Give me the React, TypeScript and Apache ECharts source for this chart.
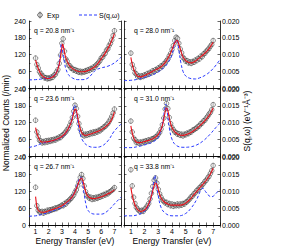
import React, { useEffect, useRef } from "react";
import * as echarts from "echarts";

const ENERGY = [
  1.0, 1.1, 1.2, 1.3, 1.4, 1.5, 1.6, 1.7, 1.8, 1.9,
  2.0, 2.1, 2.2, 2.3, 2.4, 2.5, 2.6, 2.7, 2.8, 2.9,
  3.0, 3.1, 3.2, 3.3, 3.4, 3.5, 3.6, 3.7, 3.8, 3.9,
  4.0, 4.1, 4.2, 4.3, 4.4, 4.5, 4.6, 4.7, 4.8, 4.9,
  5.0, 5.1, 5.2, 5.3, 5.4, 5.5, 5.6, 5.7, 5.8, 5.9,
  6.0, 6.1, 6.2, 6.3, 6.4, 6.5, 6.6, 6.7, 6.8, 6.9,
  7.0,
];

const Q_LABELS = ["q = 20.8 nm⁻¹", "q = 28.0 nm⁻¹", "q = 23.6 nm⁻¹", "q = 31.0 nm⁻¹", "q = 26.7 nm⁻¹", "q = 33.8 nm⁻¹"];

const EXP_1 = [107,84,72,58,52,43,42,36,37,33, 36,34,39,38,46,48,58,66,88,118, 160,176,132,104,96,82,80,71,70,64, 66,60,62,56,60,55,59,57,62,60, 66,63,70,68,75,74,82,86,92,98, 108,110,120,124,136,140,152,160,172,188, 205];
const EXP_2 = [125,84,70,54,50,40,43,38,44,41, 47,45,52,49,56,54,62,58,66,64, 72,70,79,78,86,90,98,104,115,124, 138,152,170,182,178,160,140,126,110,104, 96,98,90,94,88,95,92,100,98,106, 104,114,112,122,124,132,136,142,150,156, 170];
const EXP_3 = [128,86,70,56,54,47,52,48,55,50, 56,52,58,55,60,57,63,62,68,66, 73,76,82,86,94,100,110,122,138,160, 182,170,142,116,96,84,76,72,78,74, 80,77,84,80,86,82,88,86,92,90, 97,98,104,106,112,116,124,132,142,154, 168];
const EXP_4 = [125,86,64,58,48,50,45,50,46,52, 50,55,52,58,54,60,62,64,68,70, 78,84,96,112,136,168,188,170,138,116, 102,94,86,84,78,80,74,78,72,78, 76,82,80,86,86,92,94,98,100,106, 108,116,118,126,128,136,142,150,156,166, 184];
const EXP_5 = [133,68,52,46,44,48,42,48,46,52, 48,54,52,56,55,60,58,62,64,66, 70,68,76,74,82,84,90,94,100,106, 116,124,138,152,168,178,164,138,118,106, 100,94,98,90,96,92,98,94,100,98, 104,102,108,106,112,110,116,118,122,126, 132];
const EXP_6 = [195,138,98,76,62,56,50,47,52,48, 56,60,68,76,92,112,136,158,166,148, 126,110,98,88,84,78,80,72,76,68, 74,66,72,68,74,68,74,70,76,74, 80,82,88,92,100,102,110,114,122,124, 132,134,142,146,154,158,166,172,182,192, 210];

const EXP_ERR = [9, 9, 9, 9, 9, 9];

const FIT_1 = [[1.0,100],[1.2,70],[1.4,50],[1.6,40],[1.8,35],[2.0,34],[2.2,37],[2.4,43],[2.6,56],[2.8,85],[2.9,112],[3.0,145],[3.05,157],[3.1,152],[3.2,128],[3.3,108],[3.5,86],[3.7,74],[4.0,64],[4.3,59],[4.6,58],[5.0,63],[5.3,70],[5.6,80],[6.0,105],[6.3,125],[6.6,150],[6.8,170],[7.0,195]];
const FIT_2 = [[1.0,110],[1.1,85],[1.2,68],[1.3,56],[1.4,48],[1.5,42],[1.7,40],[2.0,45],[2.3,52],[2.6,60],[3.0,70],[3.3,80],[3.6,98],[3.9,125],[4.1,150],[4.25,166],[4.35,171],[4.45,164],[4.6,140],[4.8,112],[5.0,98],[5.2,92],[5.4,90],[5.6,93],[5.8,100],[6.0,108],[6.3,120],[6.6,135],[6.8,148],[7.0,164]];
const FIT_3 = [[1.0,102],[1.1,82],[1.2,68],[1.3,58],[1.4,52],[1.5,50],[1.7,50],[2.0,52],[2.5,58],[3.0,70],[3.3,84],[3.6,108],[3.8,135],[3.95,162],[4.05,168],[4.15,152],[4.3,116],[4.45,90],[4.6,78],[4.8,74],[5.0,76],[5.5,84],[6.0,94],[6.5,112],[6.8,132],[7.0,158]];
const FIT_4 = [[1.0,108],[1.1,82],[1.2,66],[1.3,56],[1.4,50],[1.5,48],[1.7,48],[2.0,52],[2.3,56],[2.6,62],[2.9,72],[3.1,85],[3.3,110],[3.45,145],[3.6,172],[3.7,162],[3.85,126],[4.0,102],[4.2,86],[4.5,76],[4.8,74],[5.1,78],[5.5,88],[6.0,107],[6.5,132],[6.8,152],[7.0,172]];
const FIT_5 = [[1.0,100],[1.05,80],[1.1,64],[1.2,52],[1.4,46],[1.6,45],[2.0,50],[2.5,58],[3.0,68],[3.5,85],[3.8,100],[4.0,117],[4.2,140],[4.35,158],[4.5,166],[4.6,156],[4.75,128],[4.9,108],[5.1,97],[5.4,93],[5.7,95],[6.0,100],[6.4,108],[6.7,115],[7.0,124]];
const FIT_6 = [[1.0,132],[1.1,105],[1.2,85],[1.35,65],[1.5,54],[1.7,48],[1.9,50],[2.1,58],[2.3,74],[2.5,102],[2.65,130],[2.8,148],[2.9,142],[3.05,116],[3.2,96],[3.4,83],[3.7,74],[4.0,70],[4.5,70],[4.8,72],[5.0,77],[5.3,90],[5.6,107],[5.9,124],[6.2,141],[6.5,158],[6.8,180],[7.0,200]];

const SQW_1 = [[0.5,0.0024],[1.0,0.0025],[1.5,0.0027],[2.0,0.0030],[2.3,0.0035],[2.5,0.0042],[2.7,0.0058],[2.8,0.0078],[2.9,0.0112],[2.95,0.0132],[3.0,0.0128],[3.1,0.0100],[3.2,0.0075],[3.3,0.0058],[3.5,0.0040],[3.8,0.0030],[4.2,0.0025],[4.6,0.0025],[5.0,0.0030],[5.3,0.0042],[5.6,0.0054],[6.0,0.0060],[6.5,0.0065],[7.0,0.0075],[7.5,0.0092]];
const SQW_2 = [[0.5,0.0022],[1.0,0.0023],[1.5,0.0026],[2.0,0.0032],[2.5,0.0038],[3.0,0.0048],[3.4,0.0060],[3.7,0.0075],[4.0,0.0098],[4.15,0.0125],[4.3,0.0144],[4.4,0.0138],[4.5,0.0112],[4.65,0.0075],[4.8,0.0050],[5.0,0.0036],[5.3,0.0029],[5.7,0.0027],[6.0,0.0030],[6.5,0.0040],[7.0,0.0058],[7.5,0.0085]];
const SQW_3 = [[0.5,0.0026],[1.0,0.0030],[1.5,0.0038],[2.0,0.0042],[2.5,0.0048],[3.0,0.0056],[3.3,0.0068],[3.6,0.0090],[3.8,0.0118],[3.95,0.0152],[4.05,0.0145],[4.2,0.0105],[4.35,0.0072],[4.6,0.0045],[5.0,0.0030],[5.5,0.0026],[6.0,0.0029],[6.5,0.0045],[7.0,0.0075],[7.5,0.0095]];
const SQW_4 = [[0.5,0.0025],[1.0,0.0025],[1.5,0.0028],[2.0,0.0033],[2.5,0.0040],[2.9,0.0050],[3.1,0.0065],[3.3,0.0095],[3.45,0.0135],[3.55,0.0155],[3.65,0.0132],[3.8,0.0085],[4.0,0.0050],[4.3,0.0032],[4.8,0.0026],[5.3,0.0027],[5.8,0.0033],[6.3,0.0046],[6.8,0.0066],[7.2,0.0085],[7.5,0.0098]];
const SQW_5 = [[0.5,0.0026],[1.0,0.0027],[1.5,0.0031],[2.0,0.0037],[2.5,0.0044],[3.0,0.0052],[3.3,0.0060],[3.6,0.0072],[4.0,0.0100],[4.2,0.0122],[4.35,0.0138],[4.45,0.0141],[4.55,0.0128],[4.7,0.0090],[4.85,0.0058],[5.0,0.0042],[5.5,0.0032],[6.0,0.0032],[6.5,0.0042],[7.0,0.0062],[7.5,0.0082]];
const SQW_6 = [[0.5,0.0027],[1.0,0.0027],[1.5,0.0030],[2.0,0.0040],[2.3,0.0058],[2.5,0.0085],[2.65,0.0122],[2.75,0.0146],[2.85,0.0128],[3.0,0.0085],[3.2,0.0052],[3.5,0.0035],[4.0,0.0027],[4.5,0.0027],[5.0,0.0034],[5.4,0.0050],[5.8,0.0075],[6.05,0.0098],[6.25,0.0108],[6.45,0.0098],[6.7,0.0086],[6.9,0.0083],[7.1,0.0088],[7.3,0.0097],[7.5,0.0104]];

const EXPS = [EXP_1, EXP_2, EXP_3, EXP_4, EXP_5, EXP_6];
const FITS = [FIT_1, FIT_2, FIT_3, FIT_4, FIT_5, FIT_6];
const SQWS = [SQW_1, SQW_2, SQW_3, SQW_4, SQW_5, SQW_6];

const FONT = "'Liberation Sans', Arial, Helvetica, sans-serif";
const BLUE = "#2b3bff";
const RED = "#e8101a";

export default function App() {
  const ref = useRef<HTMLDivElement>(null);
  useEffect(() => {
    if (!ref.current) return;
    const chart = echarts.init(ref.current, null, { renderer: "svg" });
    const colLeft = [29, 124];
    const colWidth = [92, 96];
    const rowTop = [21, 89, 157];
    const rowHeight = [67, 67, 68];
    const grids: any[] = [];
    const xAxes: any[] = [];
    const yAxes: any[] = [];
    const series: any[] = [];
    const graphic: any[] = [];
    const axisLine = { show: true, lineStyle: { color: "#000", width: 0.8 } };
    const tick = { show: true, inside: true, length: 2.5, lineStyle: { color: "#000", width: 0.6 } };
    const minor = { show: true, splitNumber: 2, length: 1.5, lineStyle: { color: "#000", width: 0.5 } };
    for (let i = 0; i < 6; i++) {
      const col = i % 2;
      const row = Math.floor(i / 2);
      grids.push({ left: colLeft[col], top: rowTop[row], width: colWidth[col], height: rowHeight[row], containLabel: false });
      xAxes.push({
        type: "value", gridIndex: i, min: 0.5, max: 7.5, interval: 0.5, position: "bottom",
        axisLine, splitLine: { show: false }, axisTick: tick,
        axisLabel: {
          show: row === 2, fontSize: 7, color: "#000", margin: 3, fontFamily: FONT,
          formatter: (v: number) => (Math.abs(v - Math.round(v)) < 1e-6 ? String(Math.round(v)) : ""),
        },
      });
      xAxes.push({
        type: "value", gridIndex: i, min: 0.5, max: 7.5, interval: 0.5, position: "top",
        axisLine, splitLine: { show: false }, axisTick: tick, axisLabel: { show: false },
      });
      yAxes.push({
        type: "value", gridIndex: i, min: 0, max: 240, interval: 60, position: "left",
        axisLine, splitLine: { show: false }, axisTick: tick, minorTick: minor,
        axisLabel: { show: col === 0, fontSize: 7, color: "#000", margin: 3, fontFamily: FONT },
      });
      yAxes.push({
        type: "value", gridIndex: i, min: 0, max: 0.02, interval: 0.005, position: "right",
        axisLine, splitLine: { show: false }, axisTick: tick, minorTick: minor,
        axisLabel: {
          show: col === 1, fontSize: 7, color: "#000", margin: 2, fontFamily: FONT,
          formatter: (v: number) => v.toFixed(3),
        },
      });
      const expData = ENERGY.map((e, k) => [e, EXPS[i][k]]);
      const err = EXP_ERR[i];
      series.push({
        type: "custom", name: "err" + i, xAxisIndex: 2 * i, yAxisIndex: 2 * i, z: 1,
        data: expData, silent: true,
        renderItem: (params: any, api: any) => {
          const x = api.value(0);
          const y = api.value(1);
          const top = api.coord([x, y + err]);
          const bot = api.coord([x, y - err]);
          return {
            type: "line",
            shape: { x1: top[0], y1: top[1], x2: bot[0], y2: bot[1] },
            style: { stroke: "#444", lineWidth: 0.6 },
          };
        },
      });
      series.push({
        type: "scatter", name: "Exp", xAxisIndex: 2 * i, yAxisIndex: 2 * i, z: 2,
        data: expData, symbol: "circle", symbolSize: 4.6,
        itemStyle: { color: "rgba(225,225,225,0.45)", borderColor: "#222", borderWidth: 0.6 },
      });
      series.push({
        type: "line", name: "S(q,ω)", xAxisIndex: 2 * i, yAxisIndex: 2 * i + 1, z: 3,
        data: SQWS[i], smooth: 0.4, showSymbol: false, symbol: "none",
        lineStyle: { color: BLUE, width: 1, type: [3, 2] },
        itemStyle: { color: BLUE },
      });
      series.push({
        type: "line", name: "Fit", xAxisIndex: 2 * i, yAxisIndex: 2 * i, z: 4,
        data: FITS[i], smooth: 0.4, showSymbol: false, symbol: "none",
        lineStyle: { color: RED, width: 1.1 },
        itemStyle: { color: RED },
      });
      graphic.push({
        type: "text", x: col === 0 ? 34 : 134, y: rowTop[row] + 9, z: 10,
        style: { text: Q_LABELS[i], fontSize: 6.8, fontFamily: FONT, fill: "#000", textVerticalAlign: "middle" },
      });
    }
    // legend
    graphic.push({
      type: "circle", x: 40, y: 15, shape: { cx: 0, cy: 0, r: 2.3 },
      style: { fill: "rgba(225,225,225,0.45)", stroke: "#222", lineWidth: 0.7 },
    });
    graphic.push({
      type: "line", shape: { x1: 40, y1: 11.5, x2: 40, y2: 18.5 },
      style: { stroke: "#444", lineWidth: 0.6 },
    });
    graphic.push({
      type: "text", x: 47, y: 15,
      style: { text: "Exp", fontSize: 7, fontFamily: FONT, fill: "#000", textVerticalAlign: "middle" },
    });
    graphic.push({
      type: "line", shape: { x1: 79, y1: 15, x2: 97, y2: 15 },
      style: { stroke: BLUE, lineWidth: 1, lineDash: [3, 2] },
    });
    graphic.push({
      type: "text", x: 99, y: 15,
      style: { text: "S(q,ω)", fontSize: 7, fontFamily: FONT, fill: "#000", textVerticalAlign: "middle" },
    });
    graphic.push({
      type: "text", x: 6, y: 123, rotation: Math.PI / 2,
      style: { text: "Normalized Counts (/min)", fontSize: 8.5, fontFamily: FONT, fill: "#000", textAlign: "center", textVerticalAlign: "middle" },
    });
    graphic.push({
      type: "text", x: 247, y: 121, rotation: Math.PI / 2,
      style: { text: "S(q,ω) (eV⁻¹Å⁻³)", fontSize: 8.5, fontFamily: FONT, fill: "#000", textAlign: "center", textVerticalAlign: "middle" },
    });
    graphic.push({
      type: "text", x: 75, y: 241,
      style: { text: "Energy Transfer (eV)", fontSize: 8.5, fontFamily: FONT, fill: "#000", textAlign: "center", textVerticalAlign: "middle" },
    });
    graphic.push({
      type: "text", x: 172, y: 241,
      style: { text: "Energy Transfer (eV)", fontSize: 8.5, fontFamily: FONT, fill: "#000", textAlign: "center", textVerticalAlign: "middle" },
    });

    chart.setOption({
      animation: false,
      textStyle: { fontFamily: FONT },
      grid: grids,
      xAxis: xAxes,
      yAxis: yAxes,
      series,
      graphic,
    });
    return () => chart.dispose();
  }, []);
  return <div ref={ref} style={{ width: 306, height: 248, position: "absolute", left: 0, top: 0 }} />;
}
